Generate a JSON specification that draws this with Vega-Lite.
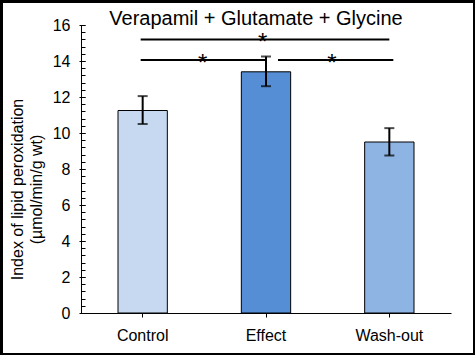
{
  "$schema": "https://vega.github.io/schema/vega-lite/v6.json",
  "autosize": "none",
  "width": 470,
  "height": 350,
  "padding": {"left": 3, "top": 3, "right": 2, "bottom": 2},
  "background": "black",
  "title": {"text": "Verapamil + Glutamate + Glycine", "fontSize": 20, "font": "Liberation Sans", "fontWeight": "normal", "color": "black", "frame": "group", "anchor": "middle", "baseline": "alphabetic", "offset": -1, "dx": 18, "dy": 41},
  "datasets": {
    "bars": [
      {"group": "Control", "value": 11.25, "lo": 10.5, "hi": 12.05},
      {"group": "Effect", "value": 13.4, "lo": 12.6, "hi": 14.25},
      {"group": "Wash-out", "value": 9.5, "lo": 8.75, "hi": 10.27}
    ],
    "sig": [
      {"pair": "CW", "from": "Control", "to": "Wash-out", "level": 15.2},
      {"pair": "CE", "from": "Control", "to": "Effect", "level": 14.05},
      {"pair": "EW", "from": "Effect", "to": "Wash-out", "level": 14.05}
    ]
  },
  "layer": [
    {
      "data": {"name": "bars"},
      "mark": {"type": "bar", "stroke": "black", "strokeWidth": 1},
      "encoding": {
        "x": {"field": "group", "type": "nominal", "sort": null,
          "scale": {"range": [78, 448], "paddingInner": 0.6, "paddingOuter": 0.3},
          "axis": {"title": null, "offset": -40, "labelAngle": 0, "labelFont": "Liberation Sans", "labelFontSize": 16, "labelColor": "black", "labelPadding": 10, "tickSize": 4, "tickColor": "black", "domainColor": "black"}},
        "y": {"field": "value", "type": "quantitative", "scale": {"domain": [0, 16], "nice": false, "range": [310, 22]},
          "axis": {"orient": "left", "title": null, "values": [0, 2, 4, 6, 8, 10, 12, 14, 16], "offset": -82, "tickSize": 6, "tickColor": "black", "domain": false, "grid": false, "labelFont": "Liberation Sans", "labelFontSize": 16, "labelColor": "black", "labelPadding": 9}},
        "color": {"field": "group", "type": "nominal", "sort": null, "legend": null,
          "scale": {"domain": ["Control", "Effect", "Wash-out"], "range": ["#C6D9F1", "#558ED5", "#8EB4E3"]}}
      }
    },
    {
      "data": {"name": "bars"},
      "mark": {"type": "rule", "color": "black", "strokeWidth": 2},
      "encoding": {
        "x": {"field": "group", "type": "nominal", "sort": null},
        "y": {"field": "lo", "type": "quantitative", "axis": null},
        "y2": {"field": "hi"}
      }
    },
    {
      "data": {"name": "bars"},
      "mark": {"type": "tick", "color": "black", "size": 10, "thickness": 2},
      "encoding": {
        "x": {"field": "group", "type": "nominal", "sort": null},
        "y": {"field": "lo", "type": "quantitative", "axis": null}
      }
    },
    {
      "data": {"name": "bars"},
      "mark": {"type": "tick", "color": "black", "size": 10, "thickness": 2},
      "encoding": {
        "x": {"field": "group", "type": "nominal", "sort": null},
        "y": {"field": "hi", "type": "quantitative", "axis": null}
      }
    },
    {
      "data": {"name": "sig"},
      "transform": [{"filter": "datum.pair !== 'EW'"}],
      "mark": {"type": "rule", "color": "black", "strokeWidth": 2, "xOffset": -2, "x2Offset": 0},
      "encoding": {
        "x": {"field": "from", "type": "nominal"},
        "x2": {"field": "to"},
        "y": {"field": "level", "type": "quantitative",
          "axis": {"orient": "left", "offset": -78, "values": [0, 0.4, 0.8, 1.2, 1.6, 2, 2.4, 2.8, 3.2, 3.6, 4, 4.4, 4.8, 5.2, 5.6, 6, 6.4, 6.8, 7.2, 7.6, 8, 8.4, 8.8, 9.2, 9.6, 10, 10.4, 10.8, 11.2, 11.6, 12, 12.4, 12.8, 13.2, 13.6, 14, 14.4, 14.8, 15.2, 15.6, 16],
            "labels": false, "tickSize": -4, "tickColor": "black", "domain": true, "domainColor": "black", "grid": false,
            "title": ["Index of lipid peroxidation", "(µmol/min/g wt)"], "titleFont": "Liberation Sans", "titleFontSize": 16, "titleFontWeight": "normal", "titleColor": "black",
            "titleLineHeight": 19, "titleBaseline": "alphabetic", "titleX": -59, "titleY": 186, "titleAngle": 270}}
      }
    },
    {
      "data": {"name": "sig"},
      "transform": [{"filter": "datum.pair === 'EW'"}],
      "mark": {"type": "rule", "color": "black", "strokeWidth": 2, "xOffset": 12, "x2Offset": 4},
      "encoding": {
        "x": {"field": "from", "type": "nominal"},
        "x2": {"field": "to"},
        "y": {"field": "level", "type": "quantitative", "axis": null}
      }
    },
    {
      "data": {"name": "sig"},
      "transform": [{"filter": "datum.pair === 'CW'"}],
      "mark": {"type": "text", "text": "*", "font": "Liberation Sans", "fontSize": 24, "color": "black", "baseline": "alphabetic", "dy": 11, "xOffset": 120},
      "encoding": {
        "x": {"field": "from", "type": "nominal"},
        "y": {"field": "level", "type": "quantitative", "axis": null}
      }
    },
    {
      "data": {"name": "sig"},
      "transform": [{"filter": "datum.pair === 'CE'"}],
      "mark": {"type": "text", "text": "*", "font": "Liberation Sans", "fontSize": 24, "color": "black", "baseline": "alphabetic", "dy": 11, "xOffset": 60},
      "encoding": {
        "x": {"field": "from", "type": "nominal"},
        "y": {"field": "level", "type": "quantitative", "axis": null}
      }
    },
    {
      "data": {"name": "sig"},
      "transform": [{"filter": "datum.pair === 'EW'"}],
      "mark": {"type": "text", "text": "*", "font": "Liberation Sans", "fontSize": 24, "color": "black", "baseline": "alphabetic", "dy": 11, "xOffset": 66},
      "encoding": {
        "x": {"field": "from", "type": "nominal"},
        "y": {"field": "level", "type": "quantitative", "axis": null}
      }
    }
  ],
  "resolve": {"axis": {"y": "independent"}},
  "config": {"view": {"stroke": null, "fill": "white"}, "font": "Liberation Sans"}
}
